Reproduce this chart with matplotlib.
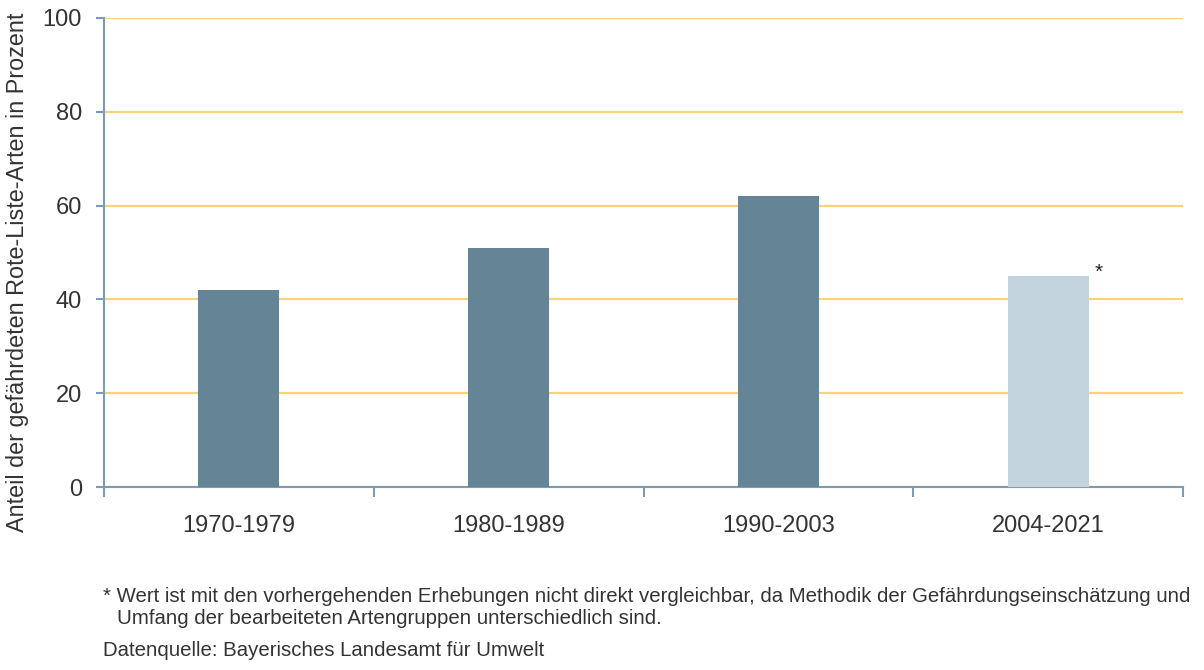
import matplotlib
matplotlib.use("Agg")
import matplotlib.pyplot as plt
import numpy as np

categories = ["1970-1979", "1980-1989", "1990-2003", "2004-2021"]
values = [42, 51, 62, 45]
comparable = [True, True, True, False]
yticks = [0, 20, 40, 60, 80, 100]

plt.rcParams['font.family'] = ['Liberation Sans', 'DejaVu Sans']

W, H = 1204, 670
fig = plt.figure(figsize=(W/100, H/100), dpi=100)
ax = fig.add_axes([104/W, 1-487/H, (1183-104)/W, (487-18)/H])

dark = "#658597"
light = "#c3d4de"
spine_c = "#7f9bb0"
grid_c = "#f9d27c"
text_c = "#333333"

x = np.arange(len(categories))
colors = [dark if c else light for c in comparable]
ax.bar(x, values, width=0.3, color=colors, zorder=3)

ax.set_xlim(-0.5, len(categories) - 0.5)
ax.set_ylim(0, 100)
ax.set_yticks(yticks)
ax.yaxis.grid(True, color=grid_c, linewidth=1.6, zorder=0)
ax.set_axisbelow(True)

for s in ["top", "right"]:
    ax.spines[s].set_visible(False)
for s in ["left", "bottom"]:
    ax.spines[s].set_color(spine_c)
    ax.spines[s].set_linewidth(1.5)

ax.set_xticks(x)
ax.set_xticklabels(categories)
ax.tick_params(axis='x', which='major', length=0, pad=20, labelsize=17, labelcolor=text_c)
ax.set_xticks(np.arange(len(categories) + 1) - 0.5, minor=True)
ax.tick_params(axis='x', which='minor', length=7, width=1.5, color=spine_c)
ax.tick_params(axis='y', length=6, width=1.5, color=spine_c, labelsize=17, labelcolor=text_c, pad=10)

ax.set_ylabel("Anteil der gefährdeten Rote-Liste-Arten in Prozent", fontsize=16.8, color=text_c)
ax.yaxis.set_label_coords(-75/(1183-104), 0.458)

# asterisk for last bar
ax.annotate("*", xy=(x[-1] + 0.15, values[-1]), xytext=(4, -4), textcoords="offset points",
            fontsize=15, color="#222222", ha="left", va="bottom")

fig.text(103/W, 1-597/H, "* Wert ist mit den vorhergehenden Erhebungen nicht direkt vergleichbar, da Methodik der Gefährdungseinschätzung und",
         fontsize=14.7, color=text_c, va="center", ha="left")
fig.text(117/W, 1-619/H, "Umfang der bearbeiteten Artengruppen unterschiedlich sind.",
         fontsize=14.7, color=text_c, va="center", ha="left")
fig.text(103/W, 1-650/H, "Datenquelle: Bayerisches Landesamt für Umwelt",
         fontsize=14.7, color=text_c, va="center", ha="left")

fig.savefig("out.png", dpi=100)
